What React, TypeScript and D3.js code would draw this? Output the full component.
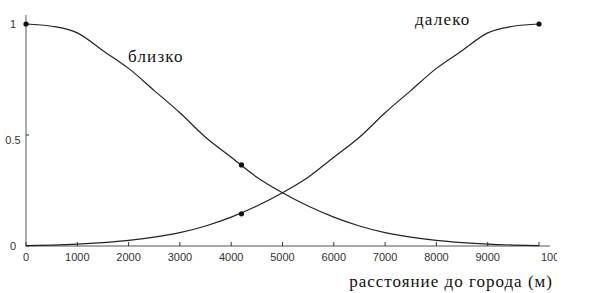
import React from "react";
import * as d3 from "d3";

const distances = [0, 500, 1000, 1500, 2000, 2500, 3000, 3500, 4000, 4500, 5000, 5500, 6000, 6500, 7000, 7500, 8000, 8500, 9000, 9500, 10000];
const nearValues = [1.0, 0.99, 0.96, 0.88, 0.80, 0.70, 0.60, 0.49, 0.40, 0.31, 0.24, 0.18, 0.13, 0.09, 0.06, 0.04, 0.025, 0.015, 0.008, 0.004, 0.002];
const farValues = [0.002, 0.004, 0.008, 0.015, 0.025, 0.04, 0.06, 0.09, 0.13, 0.18, 0.24, 0.31, 0.40, 0.49, 0.60, 0.70, 0.80, 0.88, 0.96, 0.99, 1.0];
const nearMarkers = [[0, 1.0], [4200, 0.365]];
const farMarkers = [[4200, 0.145], [10000, 1.0]];
const xTicks = [0, 1000, 2000, 3000, 4000, 5000, 6000, 7000, 8000, 9000, 10000];
const xTickLabels = ["0", "1000", "2000", "3000", "4000", "5000", "6000", "7000", "8000", "9000", "10000"];
const yTicks = [0, 0.5, 1];
const yTickLabels = ["0", "0.5", "1"];
const nearLabel = "близко";
const farLabel = "далеко";
const xAxisTitle = "расстояние до города (м)";

export default function App() {
  const W = 602, H = 293;
  const x = d3.scaleLinear().domain([0, 10000]).range([26, 539]);
  const y = d3.scaleLinear().domain([0, 1]).range([246, 24]);
  const line = d3.line<number>()
    .x((_, i) => x(distances[i]))
    .y((d) => y(d))
    .curve(d3.curveMonotoneX);
  const tickStyle = { fontFamily: "'Liberation Sans Narrow', 'Liberation Sans', Arial, sans-serif", fontSize: "11px" };
  const serifStyle = { fontFamily: "'Liberation Serif', 'Times New Roman', Times, serif", fontSize: "17px" };
  const axisColor = "#777";
  return (
    <svg width={W} height={H} style={{ position: "absolute", left: 0, top: 0, background: "#fff" }}>
      <defs>
        <clipPath id="lblclip">
          <rect x={0} y={0} width={557} height={H} />
        </clipPath>
      </defs>
      <rect x={0} y={0} width={W} height={H} fill="#fff" />
      <line x1={x(0)} x2={550} y1={y(0)} y2={y(0)} stroke="#555" strokeWidth={1.2} />
      <line x1={x(0)} x2={x(0)} y1={y(0)} y2={15} stroke={axisColor} strokeWidth={1.2} />
      {xTicks.map((t, i) => (
        <line key={"xt" + i} x1={x(t)} x2={x(t)} y1={y(0)} y2={y(0) - 4} stroke="#333" strokeWidth={1} />
      ))}
      <g clipPath="url(#lblclip)">
        {xTicks.map((t, i) => (
          <text
            key={"xl" + i}
            x={i === xTicks.length - 1 ? x(t) + 2 : x(t)}
            y={261}
            style={tickStyle}
            fill="#333"
            textAnchor={i === xTicks.length - 1 ? "start" : "middle"}
          >
            {xTickLabels[i]}
          </text>
        ))}
      </g>
      {yTicks.map((t, i) => (
        <g key={"yt" + i}>
          <line x1={x(0)} x2={x(0) + 3} y1={y(t)} y2={y(t)} stroke="#333" strokeWidth={1} />
          <text x={13} y={y(t) + 4 + (t === 0.5 ? 5 : 0)} style={tickStyle} fill="#333" textAnchor="middle">
            {yTickLabels[i]}
          </text>
        </g>
      ))}
      <path d={line(nearValues) || ""} fill="none" stroke="#222" strokeWidth={1.2} />
      <path d={line(farValues) || ""} fill="none" stroke="#222" strokeWidth={1.2} />
      {nearMarkers.concat(farMarkers).map((m, i) => (
        <circle key={"m" + i} cx={x(m[0])} cy={y(m[1])} r={2.6} fill="#111" />
      ))}
      <text x={128} y={62} style={serifStyle} letterSpacing={1.2} fill="#111">{nearLabel}</text>
      <text x={415} y={25} style={serifStyle} letterSpacing={1.2} fill="#111">{farLabel}</text>
      <text x={553} y={287} style={serifStyle} letterSpacing={1.0} fill="#111" textAnchor="end">{xAxisTitle}</text>
    </svg>
  );
}
